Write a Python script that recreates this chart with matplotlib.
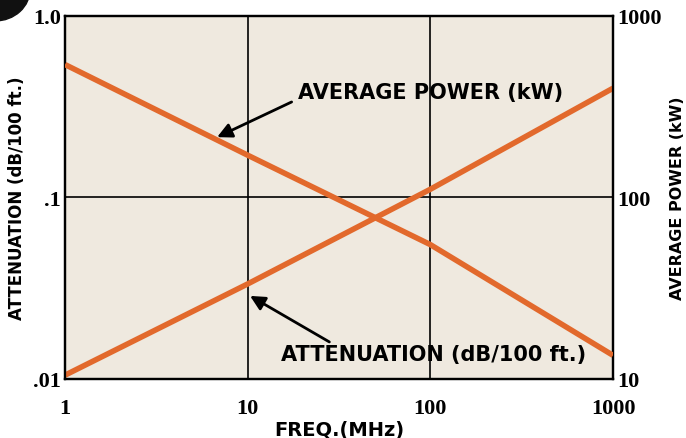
import matplotlib
matplotlib.use('Agg')
from matplotlib import pyplot as plt
from matplotlib.patches import Ellipse

# data
freq = [1, 10, 100, 1000]                 # MHz
attenuation = [0.0105, 0.0334, 0.111, 0.40]   # dB/100 ft
avg_power = [540, 171, 55, 13.5]              # kW

x_ticks = [1, 10, 100, 1000]
x_labels = ['1', '10', '100', '1000']
left_ticks = [0.01, 0.1, 1.0]
left_labels = ['.01', '.1', '1.0']
right_ticks = [10, 100, 1000]
right_labels = ['10', '100', '1000']

bg = '#efe9df'
orange = '#e2692c'
num_font = 'Liberation Serif'
txt_font = 'DejaVu Sans'

fig = plt.figure(figsize=(6.86, 4.39), dpi=100)
ax = fig.add_axes([0.0948, 0.1344, 0.7988, 0.8269])
ax.set_facecolor(bg)
ax.set_xscale('log')
ax.set_yscale('log')
ax.set_xlim(1, 1000)
ax.set_ylim(0.01, 1.0)

ax2 = ax.twinx()
ax2.set_yscale('log')
ax2.set_ylim(10, 1000)

# decade grid
for v in x_ticks[1:-1]:
    ax.axvline(v, color='black', lw=1.2, zorder=1)
ax.axhline(0.1, color='black', lw=1.2, zorder=1)

ax.plot(freq, attenuation, color=orange, lw=4, solid_capstyle='butt', zorder=3)
ax2.plot(freq, avg_power, color=orange, lw=4, solid_capstyle='butt', zorder=3)

ax.set_xticks(x_ticks)
ax.set_xticklabels(x_labels)
ax.set_yticks(left_ticks)
ax.set_yticklabels(left_labels)
ax2.set_yticks(right_ticks)
ax2.set_yticklabels(right_labels)
ax.minorticks_off()
ax2.minorticks_off()
for a in (ax, ax2):
    a.tick_params(length=0, labelsize=16, pad=3)
    for lab in a.get_xticklabels() + a.get_yticklabels():
        lab.set_fontfamily(num_font)
        lab.set_fontweight('bold')
    for s in a.spines.values():
        s.set_linewidth(1.6)
        s.set_color('black')
ax.tick_params(axis='x', pad=14)

ax.set_xlabel('FREQ.(MHz)', fontsize=14, fontweight='bold', family=txt_font, labelpad=1)
ax.set_ylabel('ATTENUATION (dB/100 ft.)', fontsize=12, fontweight='bold', family=txt_font, labelpad=5)
ax2.set_ylabel('AVERAGE POWER (kW)', fontsize=11.5, fontweight='bold', family=txt_font, labelpad=6)

arrow = dict(arrowstyle='-|>', color='black', lw=2, mutation_scale=22, shrinkA=0, shrinkB=0)
ax.annotate('', xy=(6.8, 0.215), xytext=(17.4, 0.336), arrowprops=arrow, zorder=5)
ax.text(18.8, 0.38, 'AVERAGE POWER (kW)', fontsize=15, fontweight='bold', family=txt_font,
        ha='left', va='center', zorder=5)
ax.annotate('', xy=(10.3, 0.0287), xytext=(28, 0.016), arrowprops=arrow, zorder=5)
ax.text(15.3, 0.0137, 'ATTENUATION (dB/100 ft.)', fontsize=15, fontweight='bold', family=txt_font,
        ha='left', va='center', zorder=5)

# black blob in the top left corner of the page
fig.patches.append(Ellipse((-0.007, 1.023), 0.102, 0.146, transform=fig.transFigure,
                           color='#111111', zorder=0))

fig.savefig('out.png', dpi=100)
